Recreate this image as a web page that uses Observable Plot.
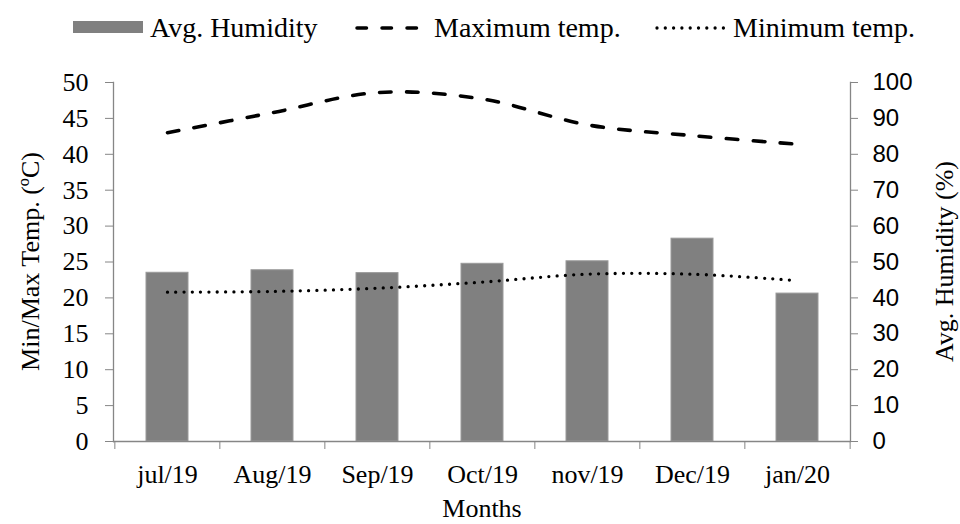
<!DOCTYPE html>
<html><head><meta charset="utf-8">
<script src="https://cdn.jsdelivr.net/npm/d3@7"></script>
<script src="https://cdn.jsdelivr.net/npm/@observablehq/plot@0.6"></script>
<style>
body{margin:0;background:#fff;}
#legend{width:960px;height:50px;display:block;}
#chart svg{display:block;}
</style></head><body>
<svg id="legend" width="960" height="50"></svg>
<div id="chart"></div>
<script>
const months = ["jul/19","Aug/19","Sep/19","Oct/19","nov/19","Dec/19","jan/20"];
const humidity = [47.0, 47.7, 46.9, 49.5, 50.2, 56.5, 41.2];
const maxTemp = [43.0, 45.8, 48.6, 47.7, 44.1, 42.6, 41.4];
const minTemp = [20.8, 20.9, 21.35, 22.2, 23.3, 23.3, 22.4];
const tempTicks = [0,5,10,15,20,25,30,35,40,45,50];
const humidityTicks = [0,10,20,30,40,50,60,70,80,90,100];
const seriesNames = ["Avg. Humidity","Maximum temp.","Minimum temp."];
const axisTitles = {x: "Months", left: "Min/Max Temp. (ºC)", right: "Avg. Humidity (%)"};

const data = months.map((m,i)=>({month:m, humidity:humidity[i], maxTemp:maxTemp[i], minTemp:minTemp[i]}));

const W = 960, H = 474, mT = 32, mB = 83, mL = 113, mR = 110;
const step = (W - mL - mR) / months.length;
const gray = "#868686";
const serif = "Liberation Serif, Times New Roman, serif";
const sans = "Liberation Sans, Arial, sans-serif";

// Legend
const lg = d3.select("#legend");
lg.append("rect").attr("x",73).attr("y",21).attr("width",70).attr("height",12).attr("fill","#808080");
lg.append("text").attr("x",150).attr("y",37).attr("font-family",serif).attr("font-size",28).text(seriesNames[0]);
lg.append("line").attr("x1",357).attr("x2",425).attr("y1",28).attr("y2",28).attr("stroke","black")
  .attr("stroke-width",3.5).attr("stroke-linecap","round").attr("stroke-dasharray","9.5,15.5");
lg.append("text").attr("x",434).attr("y",37).attr("font-family",serif).attr("font-size",28).text(seriesNames[1]);
lg.append("line").attr("x1",657).attr("x2",726).attr("y1",28).attr("y2",28).attr("stroke","black")
  .attr("stroke-width",3.3).attr("stroke-linecap","round").attr("stroke-dasharray","0,8.3");
lg.append("text").attr("x",733).attr("y",37).attr("font-family",serif).attr("font-size",28).text(seriesNames[2]);

const chart = Plot.plot({
  width: W, height: H,
  marginTop: mT, marginBottom: mB, marginLeft: mL, marginRight: mR,
  x: {domain: months, paddingInner: 0.6, paddingOuter: 0.3, axis: null, label: null},
  y: {domain: [0, 50], axis: null, label: null},
  style: {fontFamily: serif, fontSize: "26px", color: "black", background: "white"},
  marks: [
    Plot.barY(data, {x: "month", y: d => d.humidity / 2, fill: "#808080", stroke: "#9a9a9a", strokeWidth: 1}),
    Plot.ruleY([0], {stroke: gray, strokeWidth: 1.3}),
    Plot.frame({anchor: "left", stroke: gray, strokeWidth: 1.3}),
    Plot.frame({anchor: "right", stroke: gray, strokeWidth: 1.3}),
    Plot.axisY(tempTicks, {anchor: "left", tickSize: 8, tickPadding: 17, stroke: gray, fill: "black", label: null, fontFamily: serif, fontSize: 26}),
    Plot.axisY(humidityTicks.map(d => d / 2), {anchor: "right", tickSize: 7, tickPadding: 15, stroke: gray, fill: "black", tickFormat: d => String(d * 2), label: null, fontFamily: sans, fontSize: 24}),
    Plot.axisX({anchor: "bottom", tickSize: 0, tickPadding: 23, fill: "black", label: null, fontFamily: serif, fontSize: 26}),
    Plot.axisX({anchor: "bottom", tickSize: 8, tickFormat: () => "", stroke: gray, label: null, dx: -step / 2}),
    Plot.axisX([months[months.length - 1]], {anchor: "bottom", tickSize: 8, tickFormat: () => "", stroke: gray, label: null, dx: step / 2}),
    Plot.lineY(data, {x: "month", y: "maxTemp", curve: "catmull-rom", stroke: "black", strokeWidth: 3.6, strokeDasharray: "11.5,15.5", strokeLinecap: "round"}),
    Plot.lineY(data, {x: "month", y: "minTemp", curve: "catmull-rom", stroke: "black", strokeWidth: 3.3, strokeDasharray: "0,8.3", strokeLinecap: "round"}),
    Plot.text([axisTitles.x], {text: d => d, frameAnchor: "bottom", dy: 67, lineAnchor: "middle", fontFamily: serif, fontSize: 26, fill: "black"})
  ]
});
const svg = d3.select(chart);
const cy = (mT + H - mB) / 2;
svg.append("text").attr("transform", `translate(30,${cy}) rotate(-90)`).attr("text-anchor","middle").attr("dy","0.35em")
  .attr("font-family", serif).attr("font-size", 26).attr("fill","black").text(axisTitles.left);
svg.append("text").attr("transform", `translate(944,${cy}) rotate(-90)`).attr("text-anchor","middle").attr("dy","0.35em")
  .attr("font-family", serif).attr("font-size", 26).attr("fill","black").text(axisTitles.right);
document.getElementById("chart").appendChild(chart);
</script>
</body></html>
